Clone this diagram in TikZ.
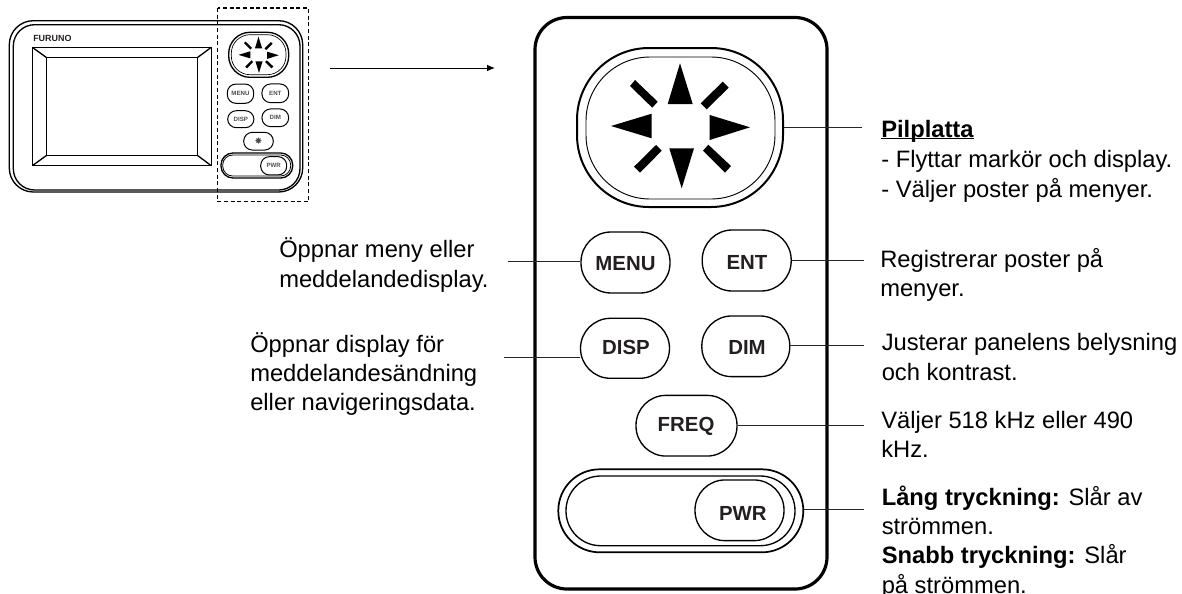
\documentclass[tikz,border=0pt]{standalone}
\usepackage{fontspec}
\setmainfont{Liberation Sans}
\newfontfamily\symfont{DejaVu Sans}
\usetikzlibrary{arrows.meta}
\def\px{0.75pt}
\definecolor{ink}{HTML}{231F20}
\newsavebox{\ulbox}
\newcommand{\tightul}[1]{\sbox{\ulbox}{#1}\rlap{\rule[-1.6pt]{\wd\ulbox}{0.9pt}}\usebox{\ulbox}}
\newcommand{\bl}[3]{\makebox[0pt]{\hspace*{#2pt}\raisebox{#3pt}[0pt][0pt]{#1}}}
\newcommand{\fs}{\rule{0pt}{16pt}\ignorespaces}
\tikzset{
  btn/.style={draw=black,line width=1pt,inner sep=0pt,font=\fontsize{15.3}{17}\selectfont\bfseries,text=ink,rounded corners=22.5pt},
  sbtn/.style={draw=black,line width=0.75pt,inner sep=0pt,font=\fontsize{4.6}{5}\selectfont\bfseries,text=ink!80,rounded corners=6.5pt},
  lead/.style={draw=black!85,line width=0.9pt},
  note/.style={anchor=north west,inner sep=0pt,align=left,text=black,font=\fontsize{17.8}{22}\selectfont},
}
\newcommand{\padmarks}{%
  \fill (680,63.3) -- (692.7,104) -- (667.7,104) -- cycle;
  \fill (681.7,188.3) -- (669.3,148.3) -- (694,148.3) -- cycle;
  \fill (611,126) -- (651.7,113.7) -- (651.7,138.3) -- cycle;
  \fill (750,127.3) -- (709.7,115) -- (709.7,140) -- cycle;
  \fill (635,80) -- (657.7,101.7) -- (652.3,107.7) -- (630,86) -- cycle;
  \fill (722.7,81.7) -- (728.7,87.7) -- (706.7,109.3) -- (700.7,103.3) -- cycle;
  \fill (656,145) -- (661.7,150.7) -- (640,172.7) -- (634,166.7) -- cycle;
  \fill (708.3,144.7) -- (731,166) -- (725,172.7) -- (703,150.7) -- cycle;
}
\begin{document}
\begin{tikzpicture}[x=0.75pt,y=-0.75pt]
\useasboundingbox (0,0) rectangle (1182,593);
% small device
\draw[line width=1pt,rounded corners=18pt] (9.3,20.7) rectangle (302.7,192);
\draw[line width=1pt,rounded corners=16pt] (13.3,24.7) rectangle (300,190);
\node[anchor=west,inner sep=0pt,font=\fontsize{6.7}{8}\selectfont\bfseries,text=ink] (brand) at (33,38) {FURUNO};
\draw[line width=1pt] (32.3,47.3) rectangle (211.3,165.7);
\draw[line width=1pt] (46.7,57.7) rectangle (197.3,155.3);
\draw[line width=1pt] (32.3,47.3) -- (46.7,57.7) (211.3,47.3) -- (197.3,57.7) (32.3,165.7) -- (46.7,155.3) (211.3,165.7) -- (197.3,155.3);
\draw[line width=1pt,rounded corners=16pt] (228.7,32.3) rectangle (288.7,77.3);
\draw[line width=0.5pt,rounded corners=14pt] (231.3,34.7) rectangle (286,74.7);
\begin{scope}[shift={(61.3,18.3)},x=0.2175pt,y=-0.2175pt]
\padmarks
\end{scope}
\node[sbtn,minimum width=26.4*\px,minimum height=19.3*\px] (smenu) at (240.5,93.7) {MENU};
\node[sbtn,minimum width=26.7*\px,minimum height=18.7*\px] (sent) at (275.3,93.3) {ENT};
\node[sbtn,minimum width=26.3*\px,minimum height=17*\px] (sdisp) at (240.8,119.2) {DISP};
\node[sbtn,minimum width=26.7*\px,minimum height=17.7*\px] (sdim) at (275.3,117.8) {DIM};
\node[sbtn,minimum width=29.6*\px,minimum height=17.7*\px,font=\fontsize{7}{8}\symfont] (sstar) at (258.5,141.2) {✸};
\draw[line width=1pt,rounded corners=9pt] (221,153) rectangle (292.7,178);
\draw[line width=0.6pt,rounded corners=7.5pt] (222.7,155) rectangle (290.7,176);
\node[sbtn,minimum width=26*\px,minimum height=18.3*\px] (spwr) at (273.7,165.8) {PWR};
\draw[line width=0.8pt,dash pattern=on 3pt off 2pt] (217.7,8) rectangle (308.7,201.7);
% arrow to enlarged panel
\coordinate (arrowstart) at (330,68);
\coordinate (arrowend) at (495,68);
\draw[line width=0.75pt,-{Latex[length=6pt,width=5pt]}] (arrowstart) -- (arrowend);
% enlarged panel
\draw[line width=2.4pt,rounded corners=24pt] (535,17.5) rectangle (827,589);
\node[draw=black,line width=1.5pt,inner sep=0pt,rounded corners=54pt,minimum width=206*\px,minimum height=159*\px] (pad) at (680,127.5) {};
\draw[line width=0.7pt,rounded corners=48pt] (586,57) rectangle (775,199);
\padmarks
\node[btn,minimum width=89*\px,minimum height=61*\px] (menu) at (625.5,262.5) {\bl{MENU}{0}{-5.9}};
\node[btn,minimum width=89*\px,minimum height=61*\px] (ent) at (746.7,260.5) {\bl{ENT}{0.5}{-7.1}};
\node[btn,minimum width=89*\px,minimum height=60*\px] (disp) at (625,348.3) {\bl{DISP}{1.5}{-4.7}};
\node[btn,minimum width=88*\px,minimum height=60.7*\px] (dim) at (745.8,346.3) {\bl{DIM}{1.8}{-6.5}};
\node[btn,minimum width=101*\px,minimum height=60.7*\px] (freq) at (686.5,425.7) {\bl{FREQ}{-0.7}{-4.2}};
\node[draw=black,line width=1.3pt,inner sep=0pt,rounded corners=31pt,minimum width=245*\px,minimum height=83*\px] (pwrouter) at (680.8,510.8) {};
\draw[line width=1pt,rounded corners=26pt] (566,476) rectangle (795,545.7);
\node[btn,minimum width=89*\px,minimum height=60.7*\px] (pwr) at (739.5,510.3) {\bl{PWR}{5}{-7.3}};
% free ends of the leaders
\coordinate (epad) at (862,127.5);
\coordinate (emenu) at (507.5,261.5);
\coordinate (eent) at (864,260.5);
\coordinate (edisp) at (504,357.5);
\coordinate (edim) at (864,345.5);
\coordinate (efreq) at (864,425.5);
\coordinate (epwr) at (864,509.5);
\draw[lead] (pad.east |- epad) -- (epad);
\draw[lead] (emenu) -- (menu.west |- emenu);
\draw[lead] (ent.east |- eent) -- (eent);
\draw[lead] (edisp) -- (disp.west |- edisp);
\draw[lead] (dim.east |- edim) -- (edim);
\draw[lead] (freq.east |- efreq) -- (efreq);
\draw[lead] (pwrouter.east |- epwr) -- (epwr);
% notes: the y is the first baseline less 21.33 px of strut
\node[note] (tpad) at (881,115.4) {\fs\textbf{\tightul{Pilplatta}}\\[0.5pt]- Flyttar markör och display.\\[0.5pt]- Väljer poster på menyer.};
\node[note] (tmenu) at (279,235.4) {\fs Öppnar meny eller\\[0.5pt]meddelandedisplay.};
\node[note] (tent) at (880,245.4) {\fs Registrerar poster på\\menyer.};
\node[note] (tdisp) at (250,330.7) {\fs Öppnar display för\\meddelandesändning\\eller navigeringsdata.};
\node[note] (tdim) at (881.5,328.7) {\fs Justerar panelens belysning\\[0.5pt]och kontrast.};
\node[note] (tfreq) at (881,406.7) {\fs Väljer 518 kHz eller 490\\kHz.};
\node[note] (tpwr) at (881.5,483.7) {\fs\textbf{Lång tryckning:} Slår av\\strömmen.\\\textbf{Snabb tryckning:} Slår\\på strömmen.};
\end{tikzpicture}
\end{document}
